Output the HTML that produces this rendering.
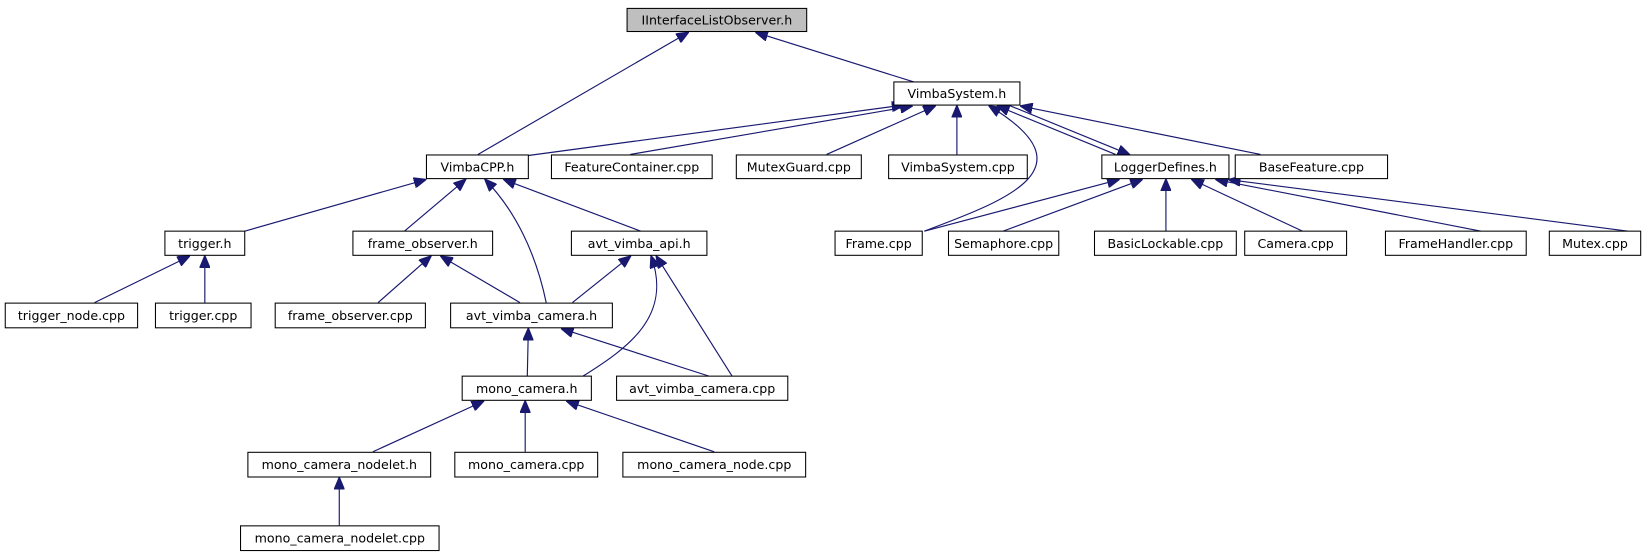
<!DOCTYPE html>
<html><head><meta charset="utf-8"><style>
html,body{margin:0;padding:0;background:#fff;}
svg{display:block;}
text{font-family:"DejaVu Sans","Liberation Sans",sans-serif;font-size:12px;fill:#000;}
</style></head><body>
<svg width="1647" height="560" viewBox="0 0 1568 533" preserveAspectRatio="none" xmlns="http://www.w3.org/2000/svg">
<defs>
<marker id="a" markerWidth="12" markerHeight="10" refX="11" refY="5" orient="auto" markerUnits="userSpaceOnUse">
<path d="M0,0 L12,5 L0,10 z" fill="#191970" stroke="#191970"/>
</marker>
</defs>
<g stroke="#191970" stroke-width="1.1" fill="none" marker-end="url(#a)">
<line x1="455" y1="147" x2="655" y2="31"/>
<line x1="870" y1="78" x2="720" y2="31"/>
<line x1="503" y1="148" x2="860" y2="100"/>
<line x1="600" y1="147" x2="868" y2="101"/>
<line x1="787" y1="147" x2="890" y2="101"/>
<line x1="911" y1="147" x2="911" y2="101"/>
<path d="M880,220 C960,190 1040,160 942,101"/>
<line x1="1062" y1="147" x2="950" y2="101"/>
<line x1="960" y1="100" x2="1075" y2="147"/>
<line x1="1200" y1="147" x2="972" y2="101"/>
<line x1="880" y1="220" x2="1065" y2="171"/>
<line x1="955" y1="220" x2="1087" y2="171"/>
<line x1="1110" y1="220" x2="1110" y2="171"/>
<line x1="1240" y1="220" x2="1135" y2="171"/>
<line x1="1410" y1="220" x2="1158" y2="171"/>
<line x1="1550" y1="220" x2="1170" y2="171"/>
<line x1="233" y1="220" x2="405" y2="171"/>
<line x1="385" y1="220" x2="443" y2="171"/>
<path d="M520,288 C510,240 490,200 462,171"/>
<line x1="610" y1="220" x2="480" y2="171"/>
<line x1="90" y1="288" x2="180" y2="244"/>
<line x1="195" y1="288" x2="195" y2="244"/>
<line x1="360" y1="288" x2="410" y2="244"/>
<line x1="495" y1="288" x2="420" y2="244"/>
<line x1="545" y1="288" x2="600" y2="244"/>
<path d="M555,358 C600,330 640,300 620,244"/>
<line x1="697" y1="358" x2="625" y2="244"/>
<line x1="502" y1="358" x2="503" y2="313"/>
<line x1="675" y1="358" x2="535" y2="313"/>
<line x1="355" y1="430" x2="460" y2="382"/>
<line x1="500" y1="430" x2="500" y2="382"/>
<line x1="680" y1="430" x2="540" y2="382"/>
<line x1="323" y1="500" x2="323" y2="455"/>
</g>
<g stroke="#000" stroke-width="1" fill="#fff">
<rect x="597" y="8" width="171" height="22" fill="#bfbfbf"/>
<rect x="851" y="78" width="120" height="22"/>
<rect x="406" y="147.5" width="97" height="22.5"/>
<rect x="525" y="147.5" width="153" height="22.5"/>
<rect x="701" y="147.5" width="119" height="22.5"/>
<rect x="846" y="147.5" width="132" height="22.5"/>
<rect x="1049" y="147.5" width="121" height="22.5"/>
<rect x="1176" y="147.5" width="145" height="22.5"/>
<rect x="157" y="220" width="76" height="23"/>
<rect x="336" y="220" width="133" height="23"/>
<rect x="544" y="220" width="129" height="23"/>
<rect x="795" y="220" width="83" height="23"/>
<rect x="903" y="220" width="105" height="23"/>
<rect x="1042" y="220" width="135" height="23"/>
<rect x="1185" y="220" width="97" height="23"/>
<rect x="1319" y="220" width="134" height="23"/>
<rect x="1475" y="220" width="87" height="23"/>
<rect x="5" y="288.5" width="126" height="23.5"/>
<rect x="148" y="288.5" width="91" height="23.5"/>
<rect x="262" y="288.5" width="143" height="23.5"/>
<rect x="429" y="288.5" width="154" height="23.5"/>
<rect x="440" y="358" width="123" height="23"/>
<rect x="587" y="358" width="163" height="23"/>
<rect x="236" y="430.5" width="174" height="23.5"/>
<rect x="433" y="430.5" width="136" height="23.5"/>
<rect x="593" y="430.5" width="174" height="23.5"/>
<rect x="229" y="500.5" width="189" height="23.5"/>
</g>
<g text-anchor="middle">
<text x="682.5" y="23.5">IInterfaceListObserver.h</text>
<text x="911" y="93.5">VimbaSystem.h</text>
<text x="454.5" y="163">VimbaCPP.h</text>
<text x="601.5" y="163">FeatureContainer.cpp</text>
<text x="760.5" y="163">MutexGuard.cpp</text>
<text x="912" y="163">VimbaSystem.cpp</text>
<text x="1109.5" y="163">LoggerDefines.h</text>
<text x="1248.5" y="163">BaseFeature.cpp</text>
<text x="195" y="236">trigger.h</text>
<text x="402.5" y="236">frame_observer.h</text>
<text x="608.5" y="236">avt_vimba_api.h</text>
<text x="836.5" y="236">Frame.cpp</text>
<text x="955.5" y="236">Semaphore.cpp</text>
<text x="1109.5" y="236">BasicLockable.cpp</text>
<text x="1233.5" y="236">Camera.cpp</text>
<text x="1386" y="236">FrameHandler.cpp</text>
<text x="1518.5" y="236">Mutex.cpp</text>
<text x="68" y="304.5">trigger_node.cpp</text>
<text x="193.5" y="304.5">trigger.cpp</text>
<text x="333.5" y="304.5">frame_observer.cpp</text>
<text x="506" y="304.5">avt_vimba_camera.h</text>
<text x="501.5" y="374">mono_camera.h</text>
<text x="668.5" y="374">avt_vimba_camera.cpp</text>
<text x="323" y="446.5">mono_camera_nodelet.h</text>
<text x="501" y="446.5">mono_camera.cpp</text>
<text x="680" y="446.5">mono_camera_node.cpp</text>
<text x="323.5" y="516.5">mono_camera_nodelet.cpp</text>
</g>
</svg>
</body></html>
